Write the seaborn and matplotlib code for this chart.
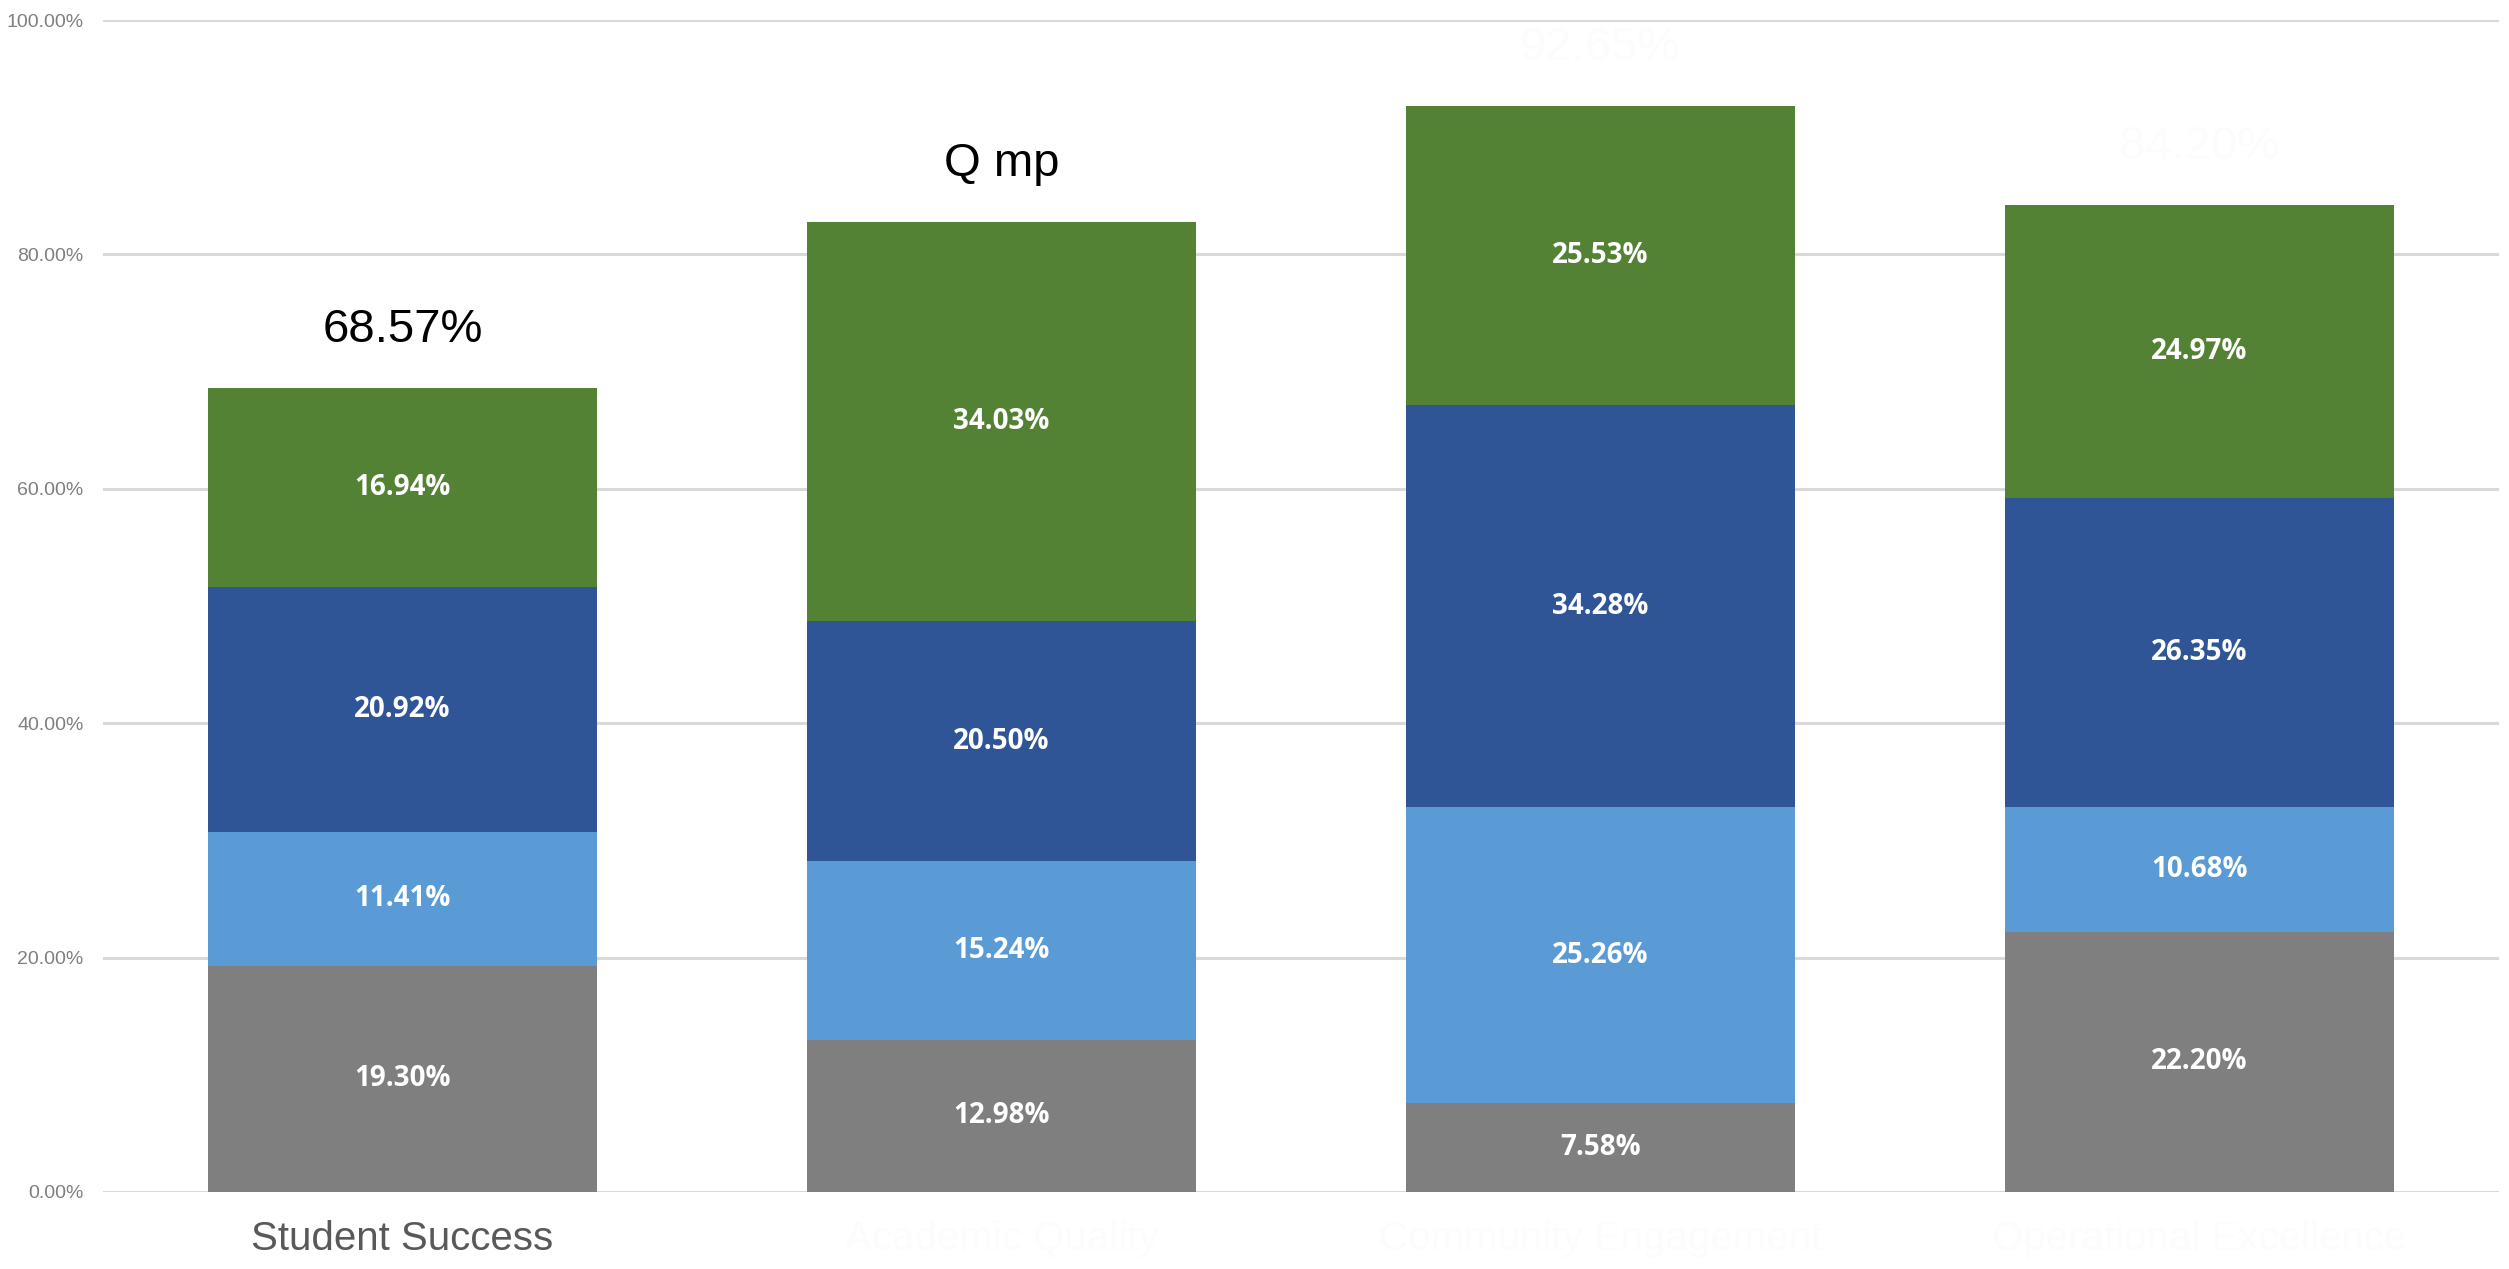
import matplotlib
matplotlib.use("Agg")
import matplotlib.pyplot as plt
from matplotlib import font_manager
import numpy as np
import pandas as pd
import seaborn as sns

# ---- data -------------------------------------------------------------
categories = ["Student Success", "Academic Quality", "Community Engagement", "Operational Excellence"]
seg_gray = [19.30, 12.98, 7.58, 22.20]
seg_lightblue = [11.41, 15.24, 25.26, 10.68]
seg_darkblue = [20.92, 20.50, 34.28, 26.35]
seg_green = [16.94, 34.03, 25.53, 24.97]
total_labels = ["68.57%", "Q mp", "92.65%", "84.20%"]
total_label_colors = ["#000000", "#000000", "#fcfcfc", "#fcfcfc"]
tick_label_colors = ["#595959", "#fcfcfc", "#fcfcfc", "#fcfcfc"]
y_ticks = [0, 20, 40, 60, 80, 100]

layer_values = [seg_gray, seg_lightblue, seg_darkblue, seg_green]
layer_colors = ["#7f7f7f", "#5b9bd5", "#2f5597", "#548235"]

# ---- fonts ------------------------------------------------------------
sns.set_theme(style="white")
installed = {f.name for f in font_manager.fontManager.ttflist}
narrow = "Liberation Sans Narrow" if "Liberation Sans Narrow" in installed else "Liberation Sans"
plt.rcParams["font.family"] = [narrow, "DejaVu Sans"]

# ---- figure -----------------------------------------------------------
fig = plt.figure(figsize=(25.09, 12.69), dpi=100)
ax = fig.add_axes([0.041, 0.0607, 0.955, 0.9235])

df = pd.DataFrame({"category": categories})
cum = np.zeros(len(categories))
bottoms = []
for vals in layer_values:
    bottoms.append(cum.copy())
    cum = cum + np.array(vals)
    df[f"top_{len(bottoms)}"] = cum
totals = cum

# stacked bars: draw cumulative heights from the top layer down
for k in range(len(layer_values) - 1, -1, -1):
    sns.barplot(data=df, x="category", y=f"top_{k + 1}", color=layer_colors[k],
                width=0.65, saturation=1, linewidth=0, ax=ax, zorder=3)

# segment value labels
for k, vals in enumerate(layer_values):
    for i, v in enumerate(vals):
        ax.text(i, bottoms[k][i] + v / 2, f"{v:.2f}%", ha="center", va="center",
                color="white", fontsize=20, fontweight="bold",
                family=["Open Sans", "DejaVu Sans"], zorder=5)

# total labels above bars
for i, t in enumerate(totals):
    ax.annotate(total_labels[i], xy=(i, t), xytext=(0, 26), textcoords="offset points",
                ha="center", va="bottom", fontsize=34, color=total_label_colors[i], zorder=5)

# axes styling
ax.set_xlim(-0.5, 3.5)
ax.set_ylim(0, 100)
ax.set_yticks(y_ticks)
ax.set_yticklabels([f"{v:.2f}%" for v in y_ticks], fontsize=14, color="#7f7f7f")
ax.tick_params(axis="y", length=0, pad=14)
ax.tick_params(axis="x", length=0, pad=20)
ax.set_xticks(range(len(categories)))
ax.set_xticklabels(categories, fontsize=29)
for lbl, c in zip(ax.get_xticklabels(), tick_label_colors):
    lbl.set_color(c)
ax.set_xlabel("")
ax.set_ylabel("")
ax.yaxis.grid(True, color="#d9d9d9", linewidth=2.2, zorder=0)
ax.xaxis.grid(False)
ax.set_axisbelow(True)
for s in ax.spines.values():
    s.set_visible(False)

fig.savefig("out.png", dpi=100, facecolor="white")
